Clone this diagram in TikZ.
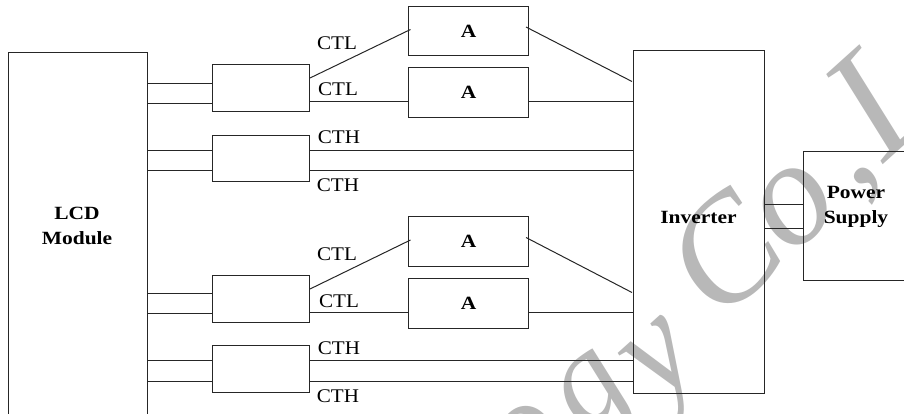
\documentclass[tikz,border=0pt]{standalone}
\usepackage{fontspec}
\setmainfont{Liberation Serif}
\newfontfamily\wideserif[FakeStretch=1.09]{Liberation Serif}
\newfontfamily\widebold[FakeStretch=1.15,BoldFont={Liberation Serif Bold}]{Liberation Serif Bold}
\definecolor{wm}{gray}{0.72}
\tikzset{
  bx/.style 2 args={draw=black!85,line width=0.75pt,inner sep=0pt,minimum width=#1*0.75pt,minimum height=#2*0.75pt,font=\fontsize{14pt}{18pt}\widebold,align=center},
  wire/.style={draw=black!85,line width=0.75pt},
  lab/.style={inner sep=0pt,font=\fontsize{14.5pt}{16pt}\wideserif},
  btxt/.style={inner sep=0pt,align=center,font=\fontsize{14pt}{18.5pt}\widebold},
  wmk/.style={inner sep=0pt,text=wm,rotate=42,font=\fontsize{#1}{#1}\selectfont\itshape}
}
\begin{document}
\begin{tikzpicture}[x=0.75pt,y=-0.75pt]
\useasboundingbox (0,0) rectangle (904,414);
\clip (0,0) rectangle (904,414);
% watermark
\node[wmk=105pt] (w1) at (528,442) {o};
\node[wmk=100pt] (w2) at (600,400) {g};
\node[wmk=105pt] (w3) at (670,370) {y};
\node[wmk=112pt] (w4) at (724,254) {C};
\node[wmk=112pt] (w5) at (795,207) {o};
\node[wmk=105pt] (w6) at (870,183) {,};
\node[wmk=120pt] (w7) at (883,95) {L};
% boxes
\node[bx={139}{400}] (lcd) at (78,252.5) {};
\node[bx={97}{47}] (b1) at (261,88) {};
\node[bx={97}{46}] (b2) at (261,158.5) {};
\node[bx={97}{47}] (b3) at (261,299) {};
\node[bx={97}{47}] (b4) at (261,369) {};
\node[bx={120}{49}] (a1) at (468.5,31) {A};
\node[bx={120}{50}] (a2) at (468.5,92.5) {A};
\node[bx={120}{50}] (a3) at (468.5,241.5) {A};
\node[bx={120}{50}] (a4) at (468.5,303.5) {A};
\node[bx={131}{343}] (inv) at (699,222) {};
\node[bx={106}{129}] (ps) at (856.5,216) {};
\node[btxt] (lcdt) at (77,226) {LCD\\Module};
\node[btxt] (invt) at (698.5,217) {Inverter};
\node[btxt] (pst) at (856,207) {Power\\Supply};
% levels
\coordinate (l1) at (0,83.5); \coordinate (l2) at (0,103.5);
\coordinate (l3) at (0,150.5); \coordinate (l4) at (0,170.5);
\coordinate (l5) at (0,293.5); \coordinate (l6) at (0,313.5);
\coordinate (l7) at (0,360.5); \coordinate (l8) at (0,381.5);
\coordinate (m1) at (0,101.5); \coordinate (m2) at (0,312.5);
\coordinate (p1) at (0,204.5); \coordinate (p2) at (0,228.5);
\coordinate (s1) at (310,78); \coordinate (e1) at (410.5,29.5);
\coordinate (s2) at (526,27); \coordinate (e2) at (632,81.5);
\coordinate (s3) at (310,289); \coordinate (e3) at (410.5,240);
\coordinate (s4) at (526,237.5); \coordinate (e4) at (632,292.5);
% wires
\foreach \l/\b in {l1/b1,l2/b1,l3/b2,l4/b2,l5/b3,l6/b3,l7/b4,l8/b4}
  \draw[wire] (lcd.east |- \l) -- (\b.west |- \l);
\foreach \l/\b in {l3/b2,l4/b2,l7/b4,l8/b4}
  \draw[wire] (\b.east |- \l) -- (inv.west |- \l);
\draw[wire] (b1.east |- m1) -- (a2.west |- m1);
\draw[wire] (a2.east |- m1) -- (inv.west |- m1);
\draw[wire] (b3.east |- m2) -- (a4.west |- m2);
\draw[wire] (a4.east |- m2) -- (inv.west |- m2);
\draw[wire] (s1) -- (e1);
\draw[wire] (s2) -- (e2);
\draw[wire] (s3) -- (e3);
\draw[wire] (s4) -- (e4);
\draw[wire] (inv.east |- p1) -- (ps.west |- p1);
\draw[wire] (inv.east |- p2) -- (ps.west |- p2);
% labels
\node[lab] (c1) at (337,43) {CTL};
\node[lab] (c2) at (338,89) {CTL};
\node[lab] (c3) at (339,137) {CTH};
\node[lab] (c4) at (338,185) {CTH};
\node[lab] (c5) at (337,254) {CTL};
\node[lab] (c6) at (339,301) {CTL};
\node[lab] (c7) at (339,348) {CTH};
\node[lab] (c8) at (338,396) {CTH};
\end{tikzpicture}
\end{document}
